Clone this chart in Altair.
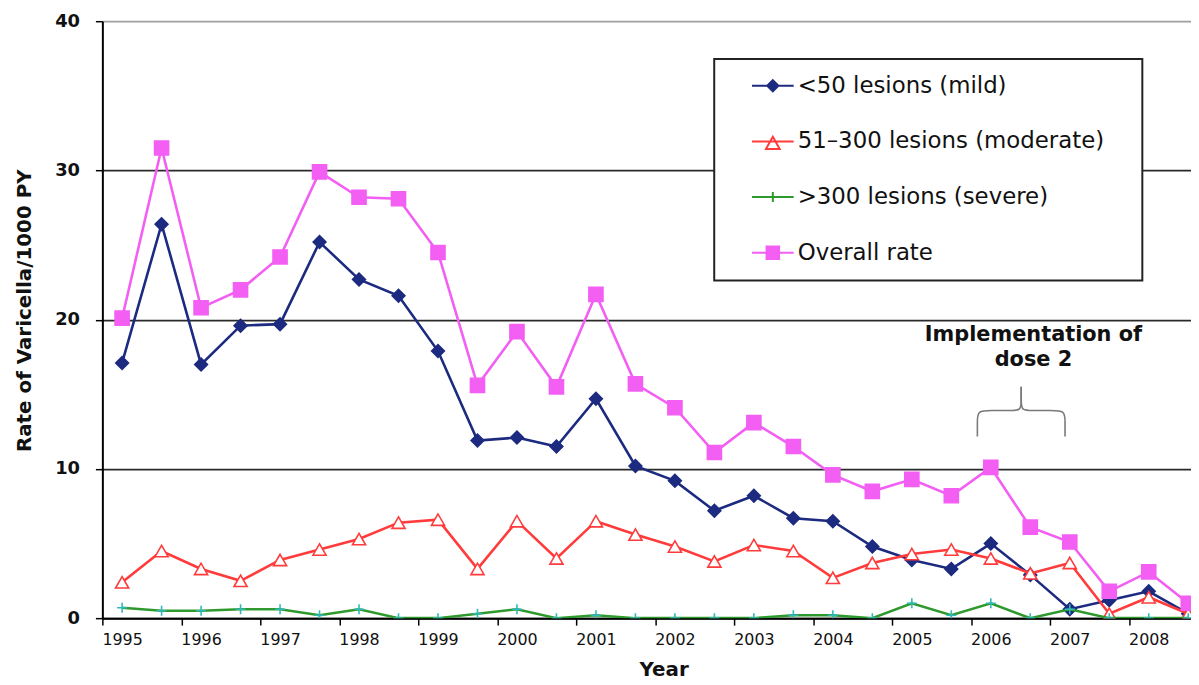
import altair as alt
import pandas as pd

# ---------------- data ----------------
period = [1995.0, 1995.5, 1996.0, 1996.5, 1997.0, 1997.5, 1998.0, 1998.5, 1999.0, 1999.5,
          2000.0, 2000.5, 2001.0, 2001.5, 2002.0, 2002.5, 2003.0, 2003.5, 2004.0, 2004.5,
          2005.0, 2005.5, 2006.0, 2006.5, 2007.0, 2007.5, 2008.0, 2008.5]

mild = [17.1, 26.4, 17.0, 19.6, 19.7, 25.2, 22.7, 21.6, 17.9, 11.9,
        12.1, 11.5, 14.7, 10.2, 9.2, 7.2, 8.2, 6.7, 6.5, 4.8,
        3.9, 3.3, 5.0, 2.9, 0.6, 1.2, 1.8, 0.3]

moderate = [2.4, 4.5, 3.3, 2.5, 3.9, 4.6, 5.3, 6.4, 6.6, 3.3,
            6.5, 4.0, 6.5, 5.6, 4.8, 3.8, 4.9, 4.5, 2.7, 3.7,
            4.3, 4.6, 4.0, 3.0, 3.7, 0.3, 1.4, 0.3]

severe = [0.7, 0.5, 0.5, 0.6, 0.6, 0.2, 0.6, 0.0, 0.0, 0.3,
          0.6, 0.0, 0.2, 0.0, 0.0, 0.0, 0.0, 0.2, 0.2, 0.0,
          1.0, 0.2, 1.0, 0.0, 0.6, 0.0, 0.0, 0.0]

overall = [20.1, 31.5, 20.8, 22.0, 24.2, 29.9, 28.2, 28.1, 24.5, 15.6,
           19.2, 15.5, 21.7, 15.7, 14.1, 11.1, 13.1, 11.5, 9.6, 8.5,
           9.3, 8.2, 10.1, 6.1, 5.1, 1.8, 3.1, 1.0]

series_names = ["<50 lesions (mild)", "51\u2013300 lesions (moderate)",
                ">300 lesions (severe)", "Overall rate"]
series_values = [mild, moderate, severe, overall]

year_labels = [1995, 1996, 1997, 1998, 1999, 2000, 2001, 2002, 2003, 2004, 2005, 2006, 2007, 2008]
y_ticks = [0, 10, 20, 30, 40]

# annotation (brace over the dose-2 implementation period), in data units
brace_period = [2005.83, 2005.83, 2005.83, 2006.0, 2006.25, 2006.385, 2006.385, 2006.385,
                2006.385, 2006.385, 2006.385, 2006.52, 2006.77, 2006.94, 2006.94, 2006.94]
brace_value = [12.18, 13.2, 13.91, 13.91, 13.91, 13.91, 14.6, 15.51,
               15.51, 14.6, 13.91, 13.91, 13.91, 13.91, 13.2, 12.18]
brace_part = ["L"] * 8 + ["R"] * 8
annot_text = "Implementation of\ndose 2"
annot_pos = (2006.54, 18.95)

# ---------------- styles ----------------
line_colors = ["#1c2a80", "#ff3b3b", "#2e9a2e", "#f35ef3"]
marker_fill = ["#1c2a80", "#ffffff", "transparent", "#f35ef3"]
marker_stroke = ["#1c2a80", "#ff3b3b", "#2fb8b8", "#f35ef3"]
marker_shape = ["diamond", "triangle-up", "M0,-1V1M-1,0H1", "square"]
marker_size = [165, 175, 100, 200]

legend_paths = [
    "M-1,0H1M0,-0.27L0.27,0L0,0.27L-0.27,0Z",
    "M-1,0H1M0,-0.22L0.33,0.36L-0.33,0.36Z",
    "M-1,0H1M0,-0.24V0.24",
    "M-1,0H1M-0.3,-0.3H0.3V0.3H-0.3Z",
]
legend_fill = ["#1c2a80", "#ffffff", "transparent", "#f35ef3"]
legend_stroke = ["#1c2a80", "#ff3b3b", "#2e9a2e", "#f35ef3"]

FONT = "DejaVu Sans"

rows = []
for name, vals in zip(series_names, series_values):
    for p, v in zip(period, vals):
        rows.append({"period": p, "value": v, "series": name})
df = pd.DataFrame(rows)

brace_df = pd.DataFrame({"period": brace_period, "value": brace_value,
                         "part": brace_part, "i": list(range(len(brace_period)))})
text_df = pd.DataFrame({"period": [annot_pos[0]], "value": [annot_pos[1]], "label": [annot_text]})

boundaries = [y - 0.25 for y in year_labels]
x_tick_vals = sorted(boundaries + year_labels)

x_axis = alt.Axis(
    title="Year", values=x_tick_vals,
    labelExpr="datum.value % 1 === 0 ? '' + datum.value : ''",
    tickOpacity={"condition": {"test": "datum.value % 1 !== 0", "value": 1}, "value": 0},
    labelFlush=False, labelOverlap=False, grid=False,
    domainColor="#000000", domainWidth=2, tickColor="#000000", tickWidth=1.5, tickSize=7,
    labelFont=FONT, labelFontSize=16, labelColor="#111111", labelPadding=7,
    titleFont=FONT, titleFontSize=20, titleFontWeight="bold", titleColor="#111111",
    titleX=565, titleY=58, titleBaseline="alphabetic", titleAlign="center",
)
y_axis = alt.Axis(
    title="Rate of Varicella/1000 PY", values=y_ticks, grid=True,
    gridColor={"condition": {"test": "datum.value === 40", "value": "#a0a0a0"}, "value": "#2a2a2a"},
    gridWidth=1.8, domainColor="#000000", domainWidth=2, tickColor="#000000", tickWidth=1.5,
    tickSize=7, labelFont=FONT, labelFontSize=18, labelFontWeight="bold", labelColor="#111111",
    labelPadding=16, titleFont=FONT, titleFontSize=20, titleFontWeight="bold",
    titleColor="#111111", titleAngle=270, titleX=-78, titleY=291,
    titleBaseline="middle", titleAlign="center",
)

x_enc = alt.X("period:Q", scale=alt.Scale(domain=[1994.75, 2008.535], nice=False, zero=False), axis=x_axis)
y_enc = alt.Y("value:Q", scale=alt.Scale(domain=[0, 40], nice=False, zero=True), axis=y_axis)

legend = alt.Legend(
    title="\u00a0", titleOrient="right", titlePadding=22, titleFontSize=8,
    orient="none", legendX=616, legendY=38, padding=16,
    fillColor="#ffffff", strokeColor="#222222", rowPadding=33, clipHeight=22,
    symbolSize=1764, symbolStrokeWidth=2, symbolOffset=21, labelOffset=3,
    symbolOpacity=1,
    labelFont=FONT, labelFontSize=23, labelColor="#111111", labelLimit=500,
)

layers = []
for i, name in enumerate(series_names):
    sub = alt.Chart(df).transform_filter(alt.datum.series == name)
    layers.append(sub.mark_line(strokeWidth=2.6, clip=True, color=line_colors[i]).encode(x=x_enc, y=y_enc))
    layers.append(sub.mark_point(
        opacity=1, strokeWidth=1.6, clip=True, shape=marker_shape[i], size=marker_size[i],
        fill=marker_fill[i], stroke=marker_stroke[i]).encode(x=x_enc, y=y_enc))

# invisible layer that only carries the legend (line + marker symbols)
legend_layer = alt.Chart(df).mark_point(opacity=0, clip=True).encode(
    x=x_enc, y=y_enc,
    shape=alt.Shape("series:N", scale=alt.Scale(domain=series_names, range=legend_paths), legend=legend),
    fill=alt.Fill("series:N", scale=alt.Scale(domain=series_names, range=legend_fill), legend=legend),
    stroke=alt.Stroke("series:N", scale=alt.Scale(domain=series_names, range=legend_stroke), legend=legend),
)

brace = alt.Chart(brace_df).mark_line(color="#7a7a7a", strokeWidth=1.6, interpolate="basis").encode(
    x=x_enc, y=y_enc, detail="part:N", order="i:Q")
annot = alt.Chart(text_df).mark_text(
    lineBreak="\n", font=FONT, fontSize=21, fontWeight="bold", color="#111111",
    align="center", baseline="middle", lineHeight=25).encode(x=x_enc, y=y_enc, text="label:N")

chart = alt.layer(legend_layer, *layers, brace, annot).properties(
    width=1096, height=601,
    padding={"left": 95, "top": 11, "right": 0, "bottom": 65},
    autosize=alt.AutoSizeParams(type="none"),
).configure_view(stroke=None).configure(background="#ffffff").configure_legend(strokeWidth=2)

chart.save("out.html", embed_options={"renderer": "svg", "actions": False})
